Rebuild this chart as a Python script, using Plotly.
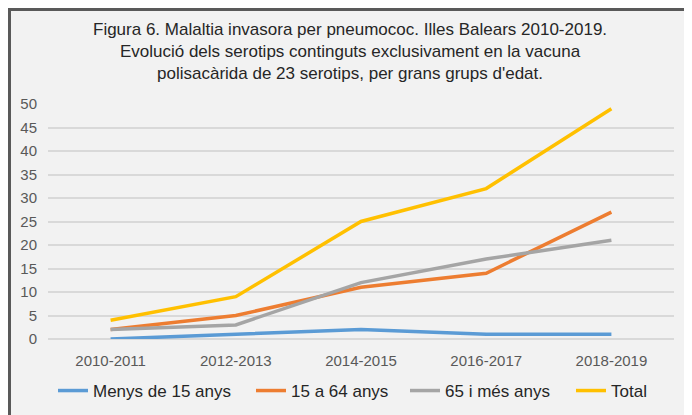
import plotly.graph_objects as go

categories = ["2010-2011", "2012-2013", "2014-2015", "2016-2017", "2018-2019"]
menys15 = [0, 1, 2, 1, 1]
de15a64 = [2, 5, 11, 14, 27]
mes65 = [2, 3, 12, 17, 21]
total = [4, 9, 25, 32, 49]
series_names = ["Menys de 15 anys", "15 a 64 anys", "65 i més anys", "Total"]
colors = ["#5B9BD5", "#ED7D31", "#A5A5A5", "#FFC000"]
legend_widths = [153, 109, 121, None]
y_ticks = [0, 5, 10, 15, 20, 25, 30, 35, 40, 45, 50]

W, H = 692, 415
OFF = 8  # page body margin offset
L, T = 48 - OFF, 104 - OFF
pw, ph = 626, 235
R, B = W - L - pw, H - T - ph

def px2x(px):
    return (px - OFF - L) / pw

def py2y(py):
    return (T + ph - (py - OFF)) / ph

fig = go.Figure()
for name, vals, col, lw in zip(series_names, [menys15, de15a64, mes65, total], colors, legend_widths):
    tr = go.Scatter(x=categories, y=vals, mode="lines", name=name,
                    line=dict(color=col, width=3.5))
    if lw:
        tr.legendwidth = lw
    fig.add_trace(tr)

fig.update_layout(
    width=W, height=H,
    margin=dict(l=L, r=R, t=T, b=B, autoexpand=False),
    paper_bgcolor="#F2F2F2",
    plot_bgcolor="#F2F2F2",
    font=dict(family="Liberation Sans, Arial, sans-serif", color="#595959"),
    showlegend=True,
    legend=dict(orientation="h", x=px2x(53), xanchor="left", y=py2y(391), yanchor="middle",
                font=dict(size=17, color="#262626"), bgcolor="rgba(0,0,0,0)",
                itemwidth=30, tracegroupgap=0),
    xaxis=dict(type="category", showgrid=False, showline=False, zeroline=False,
               tickfont=dict(size=15, color="#595959"), ticks="", range=[-0.5, 4.5],
               ticklabelstandoff=11),
    yaxis=dict(range=[0, 50], tickvals=y_ticks, showgrid=True, gridcolor="#D9D9D9",
               gridwidth=1.5, zeroline=True, zerolinecolor="#D9D9D9", zerolinewidth=1.5,
               showline=False, ticks="", tickfont=dict(size=15, color="#595959"),
               ticklabelstandoff=10),
    shapes=[dict(type="rect", xref="paper", yref="paper",
                 x0=px2x(9.5), x1=px2x(W + 30), y0=py2y(H + 30), y1=py2y(9.5),
                 line=dict(color="#595959", width=3), fillcolor="rgba(0,0,0,0)", layer="below")],
    annotations=[dict(text="Figura 6. Malaltia invasora per pneumococ. Illes Balears 2010-2019.<br>"
                           "Evolució dels serotips continguts exclusivament en la vacuna<br>"
                           "polisacàrida de 23 serotips, per grans grups d'edat.",
                      xref="paper", yref="paper", x=px2x(350), y=py2y(51),
                      xanchor="center", yanchor="middle", showarrow=False,
                      font=dict(size=17, color="#262626"), align="center")],
)

fig.write_html("out.html")
